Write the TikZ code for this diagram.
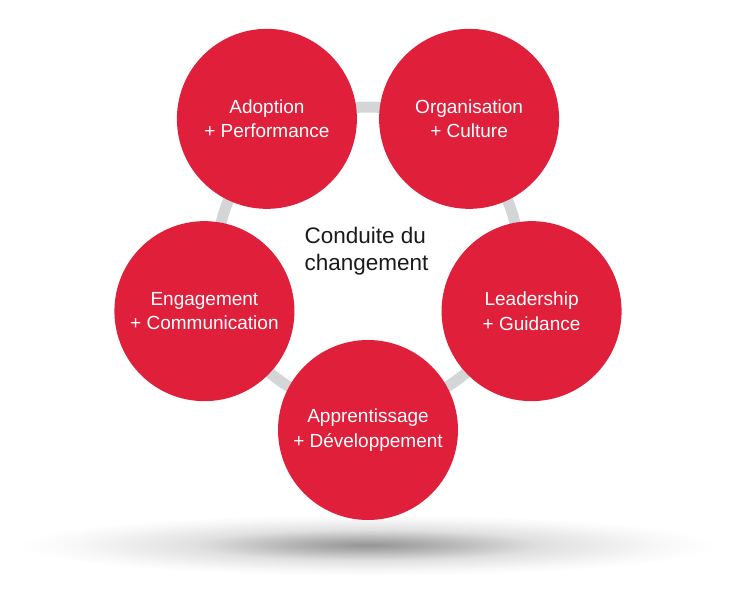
\documentclass[tikz,border=0pt]{standalone}
\usepackage{fontspec}
\setmainfont{Liberation Sans}
\usetikzlibrary{calc}
\definecolor{bubblered}{RGB}{224,31,59}
\definecolor{ringgrey}{RGB}{211,213,214}
\definecolor{themeblack}{RGB}{26,26,26}
\pgfdeclareradialshading{floorshadow}{\pgfpoint{0bp}{0bp}}{color(0bp)=(black!42); color(5bp)=(black!30); color(12bp)=(black!12); color(20bp)=(black!3); color(24bp)=(white); color(50bp)=(white)}
\tikzset{bubble/.style = {circle, fill=bubblered, minimum size=180pt, inner sep=0pt,
                          align=center, text=white, font=\fontsize{19}{24.5}\selectfont},
         ring/.style = {draw=ringgrey, line width=11pt}}

\begin{document}
\begin{tikzpicture}[x=1pt, y=1pt]
    \useasboundingbox (0, 0) rectangle (736, 594);
    \shade [shading=floorshadow] (368, 49) ellipse (362 and 32);
    \coordinate (centre) at (368, 336);
    \draw [ring] (centre) circle (151);
    \node [bubble] (adoption) at ($(centre) + (126:172)$) {Adoption\\+ Performance};
    \node [bubble] (organisation) at ($(centre) + (54:172)$) {Organisation\\+ Culture};
    \node [bubble] (leadership) at ($(centre) + (-18:172)$) {Leadership\\+ Guidance};
    \node [bubble] (apprentissage) at ($(centre) + (-90:172)$) {Apprentissage\\+ Développement};
    \node [bubble] (engagement) at ($(centre) + (198:172)$) {Engagement\\+ Communication};
    \node [anchor = west, align = left, text = themeblack,
           font = \fontsize{22.5}{27}\selectfont] (theme) at (301, 343) {Conduite du\\changement};
\end{tikzpicture}
\end{document}
